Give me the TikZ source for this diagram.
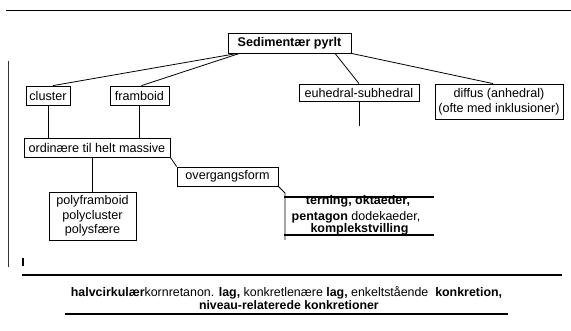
\documentclass[tikz,border=0pt]{standalone}
\usepackage{fontspec}
\setmainfont{Liberation Sans}
\usetikzlibrary{calc}
\begin{document}
\begin{tikzpicture}[x=1pt,y=-1pt,
  box/.style={draw,line width=0.8pt,inner sep=0pt,align=center,font=\fontsize{12.6}{14.5}\selectfont},
  conn/.style={line width=0.8pt},
  heavy/.style={line width=2pt},
  txt/.style={inner sep=0pt,font=\fontsize{12.5}{14}\selectfont}]
\useasboundingbox (0,0) rectangle (571,331);
% frame lines
\coordinate (topa) at (6,11);
\coordinate (topb) at (571,11);
\draw[line width=1pt] (topa) -- (topb);
\coordinate (la) at (8,61);
\coordinate (lb) at (8,267);
\draw[line width=0.8pt,black!80] (la) -- (lb);
\coordinate (ta) at (23,258);
\coordinate (tb) at (23,266);
\draw[line width=1.2pt] (ta) -- (tb);
% boxes
\node[box,minimum width=123pt,minimum height=20pt,font=\bfseries\fontsize{12.6}{14.5}\selectfont] (sed) at (289.5,43) {Sedimentær pyrlt};
\node[box,minimum width=44pt,minimum height=19pt] (cluster) at (48,95.5) {cluster};
\node[box,minimum width=59pt,minimum height=19pt] (framboid) at (139.5,95.5) {framboid};
\node[box,minimum width=120pt,minimum height=17pt] (euh) at (359,92.5) {euhedral-subhedral};
\node[box,minimum width=128pt,minimum height=35pt] (diffus) at (499,101.5) {diffus (anhedral)\\(ofte med inklusioner)};
\node[box,minimum width=146pt,minimum height=19pt] (ord) at (97,147.5) {ordinære til helt massive};
\node[box,minimum width=101pt,minimum height=19pt] (overg) at (227.5,176.5) {overgangsform};
\node[box,minimum width=87pt,minimum height=48pt] (poly) at (92.5,216) {polyframboid\\polycluster\\polysfære};
% connectors
\draw[conn] ([xshift=5pt]cluster.north) -- ($(sed.south west)+(10,0)$);
\draw[conn] ([xshift=2pt]framboid.north) -- ($(sed.south west)+(12,0)$);
\draw[conn] ([xshift=45.5pt]sed.south) -- (euh.north);
\draw[conn] (sed.south east) -- ([xshift=-6pt]diffus.north);
\coordinate (euhend) at (359,126);
\draw[conn] (euh.south) -- (euhend);
\draw[conn] (cluster.south) -- (cluster.south |- ord.north);
\draw[conn] (framboid.south) -- (framboid.south |- ord.north);
\draw[conn] (poly.north |- ord.south) -- (poly.north);
\draw[conn] (ord.south east) -- (overg.north west);
\coordinate (tvtop) at (285,193);
\coordinate (tvbot) at (285,240);
\draw[conn] (overg.south east) -- (tvtop) -- (tvbot);
% crystal forms
\coordinate (t1a) at (284,197);
\coordinate (t1b) at (434,197);
\coordinate (t2a) at (284,235.5);
\coordinate (t2b) at (434,235.5);
\node[txt] (tern1) at (358,201.5) {\textbf{terning, oktaeder,}};
\node[txt] (tern2) at (356,217) {\textbf{pentagon} dodekaeder,};
\node[txt] (tern3) at (359.5,229.5) {\textbf{komplekstvilling}};
\draw[heavy] (t1a) -- (t1b);
\draw[heavy] (t2a) -- (t2b);
% bottom
\coordinate (ba) at (22,275);
\coordinate (bb) at (562,275);
\draw[heavy] (ba) -- (bb);
\node[inner sep=0pt,font=\fontsize{12.4}{14}\selectfont] (bot1) at (286.5,293) {\textbf{halvcirkulær}kornretanon. \textbf{lag,} konkretlenære \textbf{lag,} enkeltstående \ \textbf{konkretion,}};
\node[inner sep=0pt,anchor=base east,font=\bfseries\fontsize{12.3}{14}\selectfont] (bot2) at (379,310) {niveau-relaterede konkretioner};
\coordinate (ua) at (65,314);
\coordinate (ub) at (508,314);
\draw[line width=1.3pt] (ua) -- (ub);
\end{tikzpicture}
\end{document}
